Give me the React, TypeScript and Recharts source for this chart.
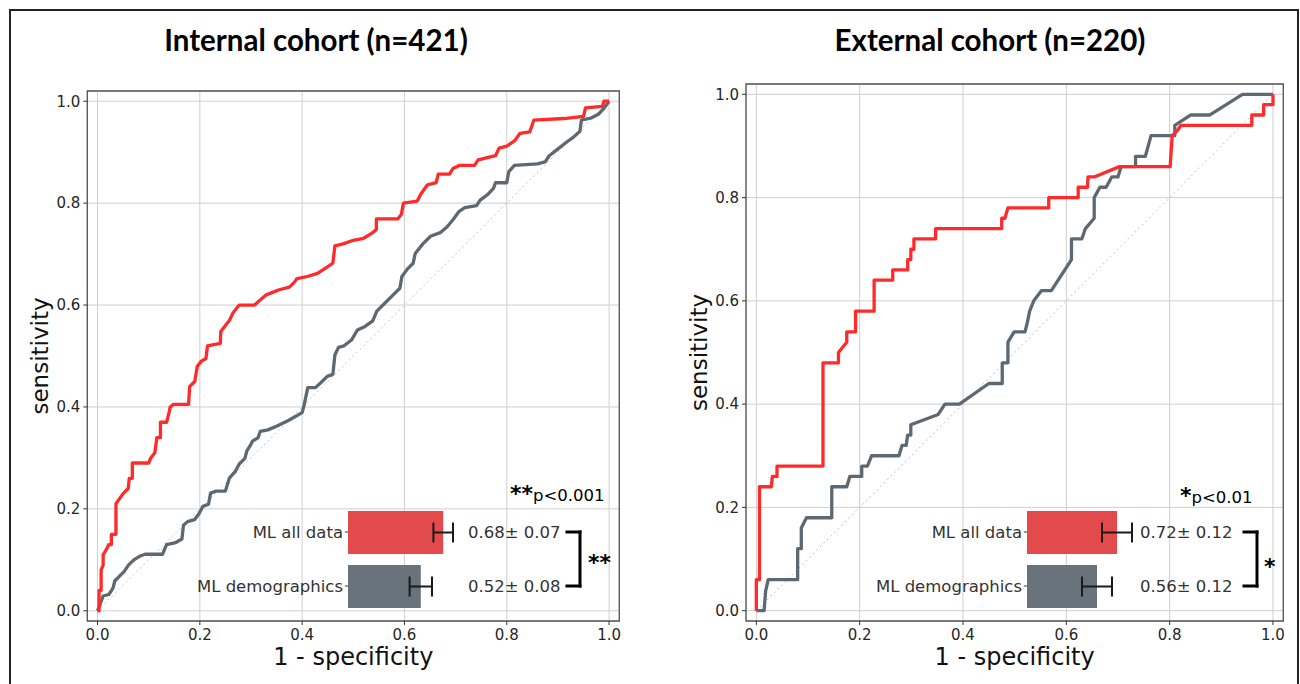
import React from 'react';
import {
  LineChart,
  Line,
  XAxis,
  YAxis,
  CartesianGrid,
  ReferenceLine,
  ReferenceArea,
  BarChart,
  Bar,
  Cell,
  ErrorBar,
  LabelList,
} from 'recharts';

// ── Shared labels / colours ──────────────────────────────────────────────────
const AXIS_TICKS = [0, 0.2, 0.4, 0.6, 0.8, 1.0];
const MODELS = ['ML all data', 'ML demographics'];
const BAR_COLORS = ['#e34a4c', '#69737c'];
const LINE_RED = '#ff2b2b';
const LINE_GRAY = '#5c6973';
const FONT = '"DejaVu Sans", sans-serif';

// ── AUC summary per cohort ───────────────────────────────────────────────────
const internalAuc = [0.68, 0.52];
const internalSd = [0.07, 0.08];
const externalAuc = [0.72, 0.56];
const externalSd = [0.12, 0.12];

// ── ROC curves, [1 - specificity, sensitivity] ───────────────────────────────
const internalAllData: [number, number][] = [
  [0, 0], [0.003, 0], [0.003, 0.04], [0.007, 0.04], [0.007, 0.08], [0.011, 0.09], [0.011, 0.11],
  [0.017, 0.12], [0.022, 0.13], [0.027, 0.13], [0.027, 0.15], [0.036, 0.15], [0.036, 0.21],
  [0.05, 0.23], [0.06, 0.24], [0.062, 0.26], [0.068, 0.26], [0.068, 0.29], [0.1, 0.29],
  [0.104, 0.3], [0.112, 0.31], [0.116, 0.34], [0.123, 0.34], [0.123, 0.37], [0.135, 0.37],
  [0.14, 0.39], [0.142, 0.4], [0.148, 0.405], [0.178, 0.405], [0.18, 0.44], [0.19, 0.45],
  [0.195, 0.48], [0.203, 0.49], [0.212, 0.495], [0.215, 0.52], [0.24, 0.525], [0.241, 0.548],
  [0.25, 0.56], [0.258, 0.57], [0.265, 0.585], [0.277, 0.6], [0.307, 0.6], [0.318, 0.61],
  [0.33, 0.62], [0.355, 0.63], [0.375, 0.635], [0.385, 0.645], [0.39, 0.652], [0.41, 0.656],
  [0.43, 0.662], [0.445, 0.672], [0.46, 0.682], [0.464, 0.716], [0.48, 0.72], [0.5, 0.727],
  [0.52, 0.731], [0.535, 0.74], [0.545, 0.748], [0.545, 0.769], [0.587, 0.769], [0.594, 0.778],
  [0.598, 0.8], [0.625, 0.804], [0.632, 0.818], [0.645, 0.836], [0.662, 0.84], [0.666, 0.857],
  [0.688, 0.857], [0.695, 0.868], [0.707, 0.874], [0.737, 0.874], [0.744, 0.885], [0.778, 0.893],
  [0.785, 0.908], [0.8, 0.912], [0.815, 0.922], [0.826, 0.937], [0.845, 0.94], [0.853, 0.963],
  [0.912, 0.966], [0.95, 0.97], [0.954, 0.987], [0.987, 0.99], [0.99, 1], [1, 1],
];

const internalDemographics: [number, number][] = [
  [0, 0], [0.004, 0.01], [0.011, 0.029], [0.022, 0.032], [0.03, 0.044], [0.034, 0.059],
  [0.045, 0.07], [0.052, 0.077], [0.06, 0.089], [0.071, 0.1], [0.082, 0.107], [0.093, 0.111],
  [0.127, 0.111], [0.135, 0.13], [0.153, 0.134], [0.165, 0.141], [0.168, 0.168], [0.176, 0.175],
  [0.19, 0.179], [0.198, 0.19], [0.206, 0.205], [0.217, 0.209], [0.221, 0.231], [0.232, 0.235],
  [0.25, 0.235], [0.258, 0.261], [0.269, 0.273], [0.277, 0.288], [0.288, 0.299], [0.292, 0.314],
  [0.299, 0.325], [0.303, 0.333], [0.314, 0.34], [0.318, 0.352], [0.333, 0.355], [0.352, 0.363],
  [0.374, 0.374], [0.4, 0.389], [0.404, 0.404], [0.411, 0.438], [0.426, 0.438], [0.438, 0.449],
  [0.449, 0.46], [0.46, 0.464], [0.464, 0.502], [0.471, 0.517], [0.482, 0.52], [0.497, 0.532],
  [0.508, 0.551], [0.523, 0.558], [0.538, 0.569], [0.546, 0.588], [0.565, 0.607], [0.576, 0.618],
  [0.591, 0.633], [0.595, 0.656], [0.606, 0.671], [0.617, 0.682], [0.621, 0.701], [0.636, 0.72],
  [0.651, 0.735], [0.67, 0.742], [0.684, 0.754], [0.696, 0.769], [0.707, 0.784], [0.718, 0.791],
  [0.741, 0.795], [0.748, 0.806], [0.763, 0.817], [0.774, 0.829], [0.778, 0.84], [0.8, 0.84],
  [0.804, 0.862], [0.815, 0.874], [0.86, 0.877], [0.875, 0.881], [0.883, 0.893], [0.897, 0.904],
  [0.916, 0.919], [0.931, 0.93], [0.943, 0.941], [0.946, 0.963], [0.965, 0.967], [0.98, 0.975],
  [0.99, 0.986], [1, 1],
];

const externalAllData: [number, number][] = [
  [0, 0], [0, 0.06], [0.006, 0.06], [0.006, 0.24], [0.029, 0.24], [0.031, 0.26], [0.04, 0.26],
  [0.04, 0.28], [0.129, 0.28], [0.129, 0.48], [0.159, 0.48], [0.159, 0.5], [0.167, 0.51],
  [0.175, 0.52], [0.175, 0.54], [0.192, 0.54], [0.192, 0.58], [0.228, 0.58], [0.228, 0.64],
  [0.264, 0.64], [0.264, 0.66], [0.293, 0.66], [0.293, 0.68], [0.299, 0.68], [0.299, 0.7],
  [0.305, 0.7], [0.305, 0.72], [0.347, 0.72], [0.347, 0.74], [0.475, 0.74], [0.475, 0.76],
  [0.481, 0.76], [0.487, 0.78], [0.566, 0.78], [0.566, 0.8], [0.623, 0.8], [0.623, 0.82],
  [0.641, 0.82], [0.642, 0.84], [0.654, 0.84], [0.703, 0.86], [0.801, 0.86], [0.805, 0.92],
  [0.815, 0.93], [0.822, 0.94], [0.959, 0.94], [0.959, 0.96], [0.982, 0.96], [0.982, 0.98],
  [1, 0.98], [1, 1],
];

const externalDemographics: [number, number][] = [
  [0, 0], [0.015, 0], [0.018, 0.038], [0.023, 0.06], [0.08, 0.06], [0.08, 0.12], [0.087, 0.12],
  [0.087, 0.16], [0.097, 0.18], [0.146, 0.18], [0.146, 0.24], [0.175, 0.24], [0.181, 0.26],
  [0.204, 0.26], [0.204, 0.28], [0.215, 0.28], [0.223, 0.3], [0.276, 0.3], [0.282, 0.32],
  [0.29, 0.32], [0.293, 0.34], [0.299, 0.34], [0.299, 0.36], [0.352, 0.38], [0.365, 0.4],
  [0.393, 0.4], [0.45, 0.44], [0.476, 0.44], [0.476, 0.48], [0.487, 0.48], [0.487, 0.52],
  [0.499, 0.54], [0.52, 0.54], [0.525, 0.56], [0.529, 0.58], [0.537, 0.6], [0.552, 0.62],
  [0.571, 0.62], [0.61, 0.68], [0.61, 0.72], [0.63, 0.72], [0.637, 0.74], [0.654, 0.76],
  [0.654, 0.8], [0.665, 0.82], [0.677, 0.82], [0.688, 0.84], [0.7, 0.84], [0.706, 0.86],
  [0.734, 0.86], [0.734, 0.88], [0.753, 0.88], [0.764, 0.92], [0.81, 0.92], [0.81, 0.94],
  [0.841, 0.96], [0.878, 0.96], [0.941, 1], [1, 1],
];

const toPoints = (arr: [number, number][]) => arr.map(([x, y]) => ({ x, y }));

// ── Axis labels drawn relative to the axis box ───────────────────────────────
const SensitivityLabel = ({ viewBox }: any) => {
  const cx = viewBox.x + viewBox.width - 47;
  const cy = viewBox.y + viewBox.height / 2;
  return (
    <text x={cx} y={cy} transform={`rotate(-90 ${cx} ${cy})`} textAnchor="middle"
      dominantBaseline="central" fontSize={23} fill="#111" fontFamily={FONT}>
      sensitivity
    </text>
  );
};

const SpecificityLabel = ({ viewBox }: any) => {
  const cx = viewBox.x + viewBox.width / 2;
  const cy = viewBox.y + 36;
  return (
    <text x={cx} y={cy} textAnchor="middle" dominantBaseline="central" fontSize={24} fill="#111" fontFamily={FONT}>
      1 - specificity
    </text>
  );
};

const tickStyle = { fontSize: 15, fill: '#262626', fontFamily: FONT };

function RocChart({ left, width, top, yAxisWidth, rightMargin, red, gray }: any) {
  return (
    <div style={{ position: 'absolute', left, top: 0 }}>
      <LineChart width={width} height={684} margin={{ top, right: rightMargin, bottom: 23, left: 0 }}>
        <CartesianGrid stroke="#cfcfcf" strokeWidth={1} />
        <XAxis
          dataKey="x"
          type="number"
          domain={[-0.02, 1.02]}
          allowDataOverflow
          ticks={AXIS_TICKS}
          tickFormatter={(v) => v.toFixed(1)}
          tick={tickStyle}
          tickSize={4}
          tickMargin={4}
          tickLine={{ stroke: '#333' }}
          axisLine={false}
          height={40}
          label={<SpecificityLabel />}
        />
        <YAxis
          type="number"
          domain={[-0.02, 1.02]}
          allowDataOverflow
          ticks={AXIS_TICKS}
          tickFormatter={(v) => v.toFixed(1)}
          tick={tickStyle}
          tickSize={4}
          tickMargin={3}
          tickLine={{ stroke: '#333' }}
          axisLine={false}
          width={yAxisWidth}
          label={<SensitivityLabel />}
        />
        <ReferenceLine
          segment={[{ x: 0, y: 0 }, { x: 1, y: 1 }]}
          stroke="#c4c4c4"
          strokeDasharray="2 3"
          strokeWidth={1}
        />
        <Line data={toPoints(gray)} dataKey="y" type="linear" stroke={LINE_GRAY} strokeWidth={3.3}
          dot={false} strokeLinejoin="round" isAnimationActive={false} />
        <Line data={toPoints(red)} dataKey="y" type="linear" stroke={LINE_RED} strokeWidth={3.3}
          dot={false} strokeLinejoin="round" isAnimationActive={false} />
        <ReferenceArea x1={-0.02} x2={1.02} y1={-0.02} y2={1.02} fill="none" fillOpacity={0}
          stroke="#555" strokeWidth={1.3} ifOverflow="visible" />
      </LineChart>
    </div>
  );
}

// value label placed a fixed distance right of the bar origin
const valueLabel = (offset: number) => (p: any) => {
  const vb = p.viewBox ?? p;
  const x = (vb.x ?? p.x) + offset;
  const y = (vb.y ?? p.y) + (vb.height ?? p.height) / 2;
  return (
    <text x={x} y={y} dominantBaseline="central" fontSize={16.5} fill="#333" fontFamily={FONT}>
      {p.value}
    </text>
  );
};

function AucInset({ origin, unitPx, auc, sd, textOffset, arm }: any) {
  const rows = MODELS.map((name, i) => ({
    name,
    auc: auc[i],
    sd: sd[i],
    text: `${auc[i].toFixed(2)}± ${sd[i].toFixed(2)}`,
  }));
  const yw = 150;
  return (
    <div style={{ position: 'absolute', left: origin - yw, top: 505 }}>
      <BarChart layout="vertical" width={yw + 2 * unitPx} height={108} data={rows}
        margin={{ top: 0, right: 0, bottom: 0, left: 0 }}>
        <XAxis type="number" domain={[0, 2]} hide />
        <YAxis type="category" dataKey="name" width={yw} axisLine={false} tickSize={3} tickMargin={2}
          tickLine={{ stroke: '#333' }} tick={{ fontSize: 16.5, fill: '#333', fontFamily: FONT }} />
        <Bar dataKey="auc" barSize={43} isAnimationActive={false}>
          {rows.map((r, i) => <Cell key={r.name} fill={BAR_COLORS[i]} />)}
          <ErrorBar dataKey="sd" direction="x" width={10} strokeWidth={2} stroke="#1a1a1a" />
          <LabelList dataKey="text" content={valueLabel(textOffset)} />
        </Bar>
        <ReferenceLine segment={[{ x: arm[0], y: MODELS[0] }, { x: arm[1], y: MODELS[0] }]}
          stroke="#000" strokeWidth={3} strokeLinecap="square" ifOverflow="visible" />
        <ReferenceLine segment={[{ x: arm[0], y: MODELS[1] }, { x: arm[1], y: MODELS[1] }]}
          stroke="#000" strokeWidth={3} strokeLinecap="square" ifOverflow="visible" />
        <ReferenceLine segment={[{ x: arm[1], y: MODELS[0] }, { x: arm[1], y: MODELS[1] }]}
          stroke="#000" strokeWidth={3} strokeLinecap="square" ifOverflow="visible" />
      </BarChart>
    </div>
  );
}

const titleStyle: React.CSSProperties = {
  position: 'absolute',
  top: 21,
  width: 500,
  textAlign: 'center',
  fontFamily: 'Lato, sans-serif',
  fontWeight: 700,
  fontSize: 29.5,
  color: '#000',
  lineHeight: '38px',
};

export default function App() {
  return (
    <div style={{ position: 'absolute', left: 0, top: 0, width: 1300, height: 684, background: '#fff', overflow: 'hidden' }}>
      <div style={{ position: 'absolute', left: 9, top: 9, width: 1286, height: 720, border: '2px solid #222' }} />

      <div style={{ ...titleStyle, left: 316 - 250 }}>Internal cohort (n=421)</div>
      <div style={{ ...titleStyle, left: 990 - 250 }}>External cohort (n=220)</div>

      <RocChart left={0} width={640} top={91} yAxisWidth={87.3} rightMargin={20.7}
        red={internalAllData} gray={internalDemographics} />
      <RocChart left={650} width={650} top={84} yAxisWidth={96} rightMargin={16.7}
        red={externalAllData} gray={externalDemographics} />

      <AucInset origin={348} unitPx={140} auc={internalAuc} sd={internalSd} textOffset={120} arm={[1.564, 1.657]} />
      <AucInset origin={1027} unitPx={125} auc={externalAuc} sd={externalSd} textOffset={113} arm={[1.736, 1.84]} />

      <svg width={1300} height={684} style={{ position: 'absolute', left: 0, top: 0, pointerEvents: 'none' }}>
        <g fontFamily={FONT} fill="#000">
          <text x={510} y={501}>
            <tspan fontSize={22} fontWeight="bold">**</tspan>
            <tspan fontSize={16.5}>p&lt;0.001</tspan>
          </text>
          <text x={588} y={570} fontSize={22} fontWeight="bold">**</text>
          <text x={1180} y={503}>
            <tspan fontSize={22} fontWeight="bold">*</tspan>
            <tspan fontSize={16.5}>p&lt;0.01</tspan>
          </text>
          <text x={1264} y={574} fontSize={22} fontWeight="bold">*</text>
        </g>
      </svg>
    </div>
  );
}
